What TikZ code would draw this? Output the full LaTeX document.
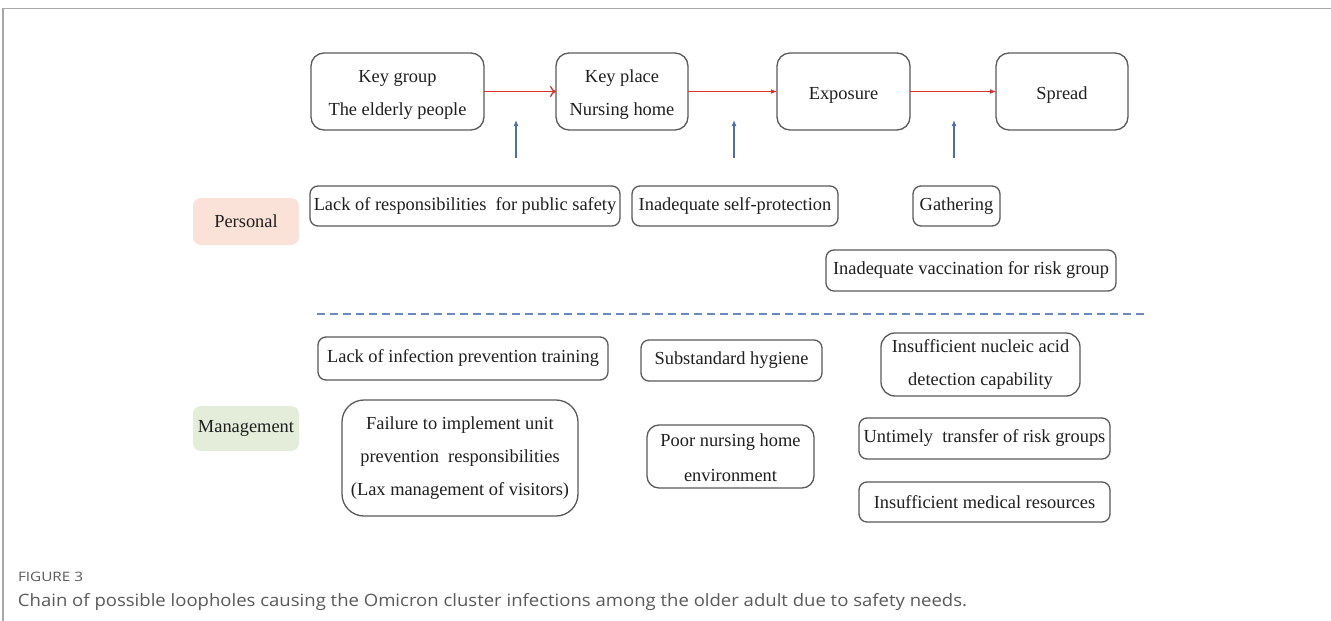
\documentclass[tikz,border=0pt]{standalone}
\usepackage{fontspec}
\setmainfont{Liberation Serif}
\newfontfamily\capfont{Open Sans}
\usetikzlibrary{arrows.meta}
\definecolor{boxline}{HTML}{5A5A5A}
\definecolor{chainred}{HTML}{D8342C}
\definecolor{upblue}{HTML}{4F6EA6}
\definecolor{dashblue}{HTML}{6A8BC0}
\definecolor{perfill}{HTML}{FBE2D8}
\definecolor{mgtfill}{HTML}{E3EDDA}
\definecolor{framegray}{HTML}{A8A8A8}
\definecolor{captext}{HTML}{5A5A5A}
% taller first line: sets the stage texts a little lower in their boxes
\newcommand\stagestrut{\rule{0pt}{19.5pt}}
\tikzset{
  every node/.style={inner sep=0pt, outer sep=0pt},
  txt/.style={font=\fontsize{18.4}{33}\selectfont, align=center, text=black!88},
  stagebox/.style={txt, draw=boxline, line width=1.3pt, rounded corners=13pt, minimum height=77pt},
  causebox/.style={txt, draw=boxline, line width=1.3pt, rounded corners=8pt},
  tagbox/.style={txt, rounded corners=8pt, minimum width=106pt},
  chain/.style={draw=chainred, line width=1.8pt},
  uparrow/.style={draw=upblue, line width=1.6pt, -{Latex[length=6pt,width=5pt]}},
}
\begin{document}
\begin{tikzpicture}[x=1pt, y=-1pt]
\useasboundingbox (0,0) rectangle (1331,621);
\fill[white] (0,0) rectangle (1331,621);
% page frame
\draw[framegray, line width=1.6pt] (3,621) -- (3,8.5) -- (1331,8.5);

% stage chain
\node[stagebox, minimum width=173pt] (kg) at (397.5,91.5) {\stagestrut Key group\\The elderly people};
\node[stagebox, minimum width=132pt] (kp) at (622,91.5) {\stagestrut Key place\\Nursing home};
\node[stagebox, minimum width=133pt] (ex) at (843.5,91.5) {\stagestrut Exposure};
\node[stagebox, minimum width=132pt] (sp) at (1062,91.5) {\stagestrut Spread};
\draw[chain, -{To[length=6pt,width=11pt,line width=1.3pt]}] (kg.east) -- (kp.west);
\draw[chain, -{Latex[length=6pt,width=5pt]}] (kp.east) -- (ex.west);
\draw[chain, -{Latex[length=6pt,width=5pt]}] (ex.east) -- (sp.west);

% loophole arrows
\coordinate (a1s) at (516,158); \coordinate (a1e) at (516,120);
\coordinate (a2s) at (734,158); \coordinate (a2e) at (734,120);
\coordinate (a3s) at (954,158); \coordinate (a3e) at (954,120);
\draw[uparrow] (a1s) -- (a1e);
\draw[uparrow] (a2s) -- (a2e);
\draw[uparrow] (a3s) -- (a3e);

% personal factors
\node[tagbox, fill=perfill, minimum height=47pt] (per) at (246,221.5) {Personal};
\node[causebox, minimum width=310pt, minimum height=40pt] (lr) at (465,206) {Lack of responsibilities\ \ for public safety};
\node[causebox, minimum width=206pt, minimum height=40pt] (sf) at (735,206) {Inadequate self-protection};
\node[causebox, minimum width=87pt, minimum height=40pt] (ga) at (956.5,206) {Gathering};
\node[causebox, minimum width=290pt, minimum height=41pt] (va) at (971,270.5) {Inadequate vaccination for risk group};

% divider
\coordinate (d1) at (317,314); \coordinate (d2) at (1148,314);
\draw[dashblue, line width=1.4pt, dash pattern=on 8pt off 5pt] (d1) -- (d2);

% management factors
\node[tagbox, fill=mgtfill, minimum height=45pt] (mg) at (246,428.5) {Management};
\node[causebox, minimum width=290pt, minimum height=43pt] (li) at (463,358.5) {Lack of infection prevention training};
\node[causebox, minimum width=181pt, minimum height=41pt] (sh) at (731.5,360.5) {Substandard hygiene};
\node[causebox, rounded corners=14pt, minimum width=199pt, minimum height=63pt] (na) at (980.5,364.5) {Insufficient nucleic acid\\detection capability};
\node[causebox, rounded corners=22pt, minimum width=236pt, minimum height=116pt] (fa) at (460,458) {Failure to implement unit\\prevention\ \ responsibilities\\(Lax management of visitors)};
\node[causebox, rounded corners=12pt, minimum width=167pt, minimum height=63pt, font=\fontsize{18.4}{35}\selectfont] (pn) at (730.5,456.5) {\rule{0pt}{15pt}Poor nursing home\\environment};
\node[causebox, minimum width=251pt, minimum height=41pt] (ut) at (984.5,438.5) {Untimely\ \ transfer of risk groups};
\node[causebox, minimum width=251pt, minimum height=40pt] (mr) at (984.5,502) {Insufficient medical resources};

% caption
\node[anchor=base west, text=captext] (fig) at (18,581) {\resizebox{65pt}{\height}{\capfont\fontsize{13}{15}\selectfont FIGURE 3}};
\node[anchor=base west, text=captext] (cap) at (18,606) {\resizebox{949pt}{\height}{\capfont\fontsize{17}{20}\selectfont Chain of possible loopholes causing the Omicron cluster infections among the older adult due to safety needs.}};
\end{tikzpicture}
\end{document}
